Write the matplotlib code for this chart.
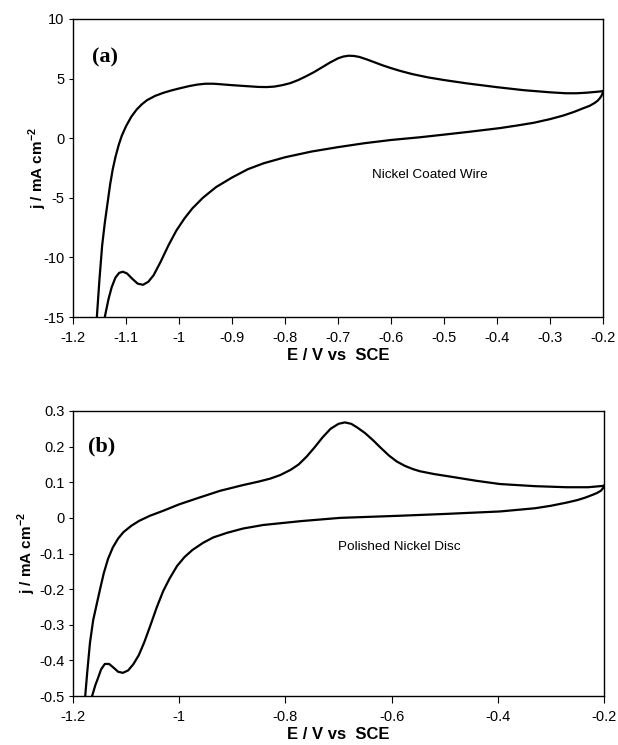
import matplotlib.pyplot as plt

plt.rcParams['font.family'] = 'Liberation Sans'
plt.rcParams['mathtext.fontset'] = 'custom'
plt.rcParams['mathtext.rm'] = 'Liberation Sans:bold'
plt.rcParams['mathtext.bf'] = 'Liberation Sans:bold'

# (a) nickel coated wire: anodic (forward) and cathodic (return) branches
a_fwd_E = [-1.155, -1.15, -1.145, -1.14, -1.135, -1.13, -1.125, -1.12, -1.114, -1.108,
           -1.1, -1.09, -1.08, -1.07, -1.06, -1.045, -1.03, -1.015, -1.0, -0.98,
           -0.965, -0.95, -0.935, -0.92, -0.9, -0.87, -0.85, -0.834, -0.82, -0.805,
           -0.79, -0.775, -0.76, -0.745, -0.73, -0.715, -0.7, -0.69, -0.68, -0.67,
           -0.66, -0.645, -0.63, -0.615, -0.6, -0.583, -0.56, -0.53, -0.5, -0.457,
           -0.4, -0.35, -0.3, -0.27, -0.25, -0.23, -0.21, -0.2]
a_fwd_j = [-15, -11.8, -9, -7.1, -5.5, -3.9, -2.6, -1.6, -0.6, 0.2,
           1.0, 1.8, 2.4, 2.85, 3.2, 3.55, 3.8, 4.0, 4.17, 4.38,
           4.5, 4.57, 4.57, 4.52, 4.45, 4.36, 4.3, 4.29, 4.33, 4.45,
           4.62, 4.88, 5.2, 5.55, 5.95, 6.35, 6.7, 6.85, 6.92, 6.9,
           6.82, 6.6, 6.35, 6.1, 5.88, 5.65, 5.38, 5.1, 4.88, 4.6,
           4.28, 4.03, 3.85, 3.77, 3.77, 3.82, 3.9, 3.95]
a_rev_E = [-0.2, -0.201, -0.203, -0.206, -0.21, -0.216, -0.225, -0.238, -0.255, -0.275,
           -0.3, -0.33, -0.36, -0.394, -0.45, -0.5, -0.545, -0.6, -0.65, -0.7,
           -0.75, -0.8, -0.84, -0.87, -0.9, -0.93, -0.955, -0.975, -0.99, -1.005,
           -1.02, -1.035, -1.048, -1.058, -1.068, -1.078, -1.088, -1.098, -1.106, -1.113,
           -1.12, -1.127, -1.133, -1.14]
a_rev_j = [3.95, 3.75, 3.55, 3.35, 3.15, 2.95, 2.72, 2.5, 2.2, 1.9,
           1.6, 1.3, 1.08, 0.85, 0.55, 0.3, 0.08, -0.15, -0.42, -0.75,
           -1.12, -1.6, -2.1, -2.6, -3.3, -4.1, -5.0, -5.9, -6.75, -7.75,
           -9.0, -10.4, -11.5, -12.05, -12.3, -12.2, -11.8, -11.35, -11.2, -11.3,
           -11.7, -12.5, -13.5, -15]

# (b) polished nickel disc
b_fwd_E = [-1.177, -1.173, -1.168, -1.162, -1.155, -1.149, -1.142, -1.134, -1.125, -1.115,
           -1.105, -1.09, -1.075, -1.055, -1.03, -1.0, -0.96, -0.923, -0.88, -0.85,
           -0.829, -0.81, -0.79, -0.775, -0.76, -0.745, -0.73, -0.715, -0.7, -0.688,
           -0.676, -0.665, -0.65, -0.635, -0.62, -0.605, -0.59, -0.575, -0.56, -0.547,
           -0.52, -0.49, -0.44, -0.396, -0.33, -0.27, -0.23, -0.2]
b_fwd_j = [-0.5, -0.43, -0.35, -0.287, -0.24, -0.2, -0.155, -0.115, -0.083, -0.058,
           -0.04, -0.022, -0.008, 0.006, 0.02, 0.038, 0.058, 0.076, 0.092, 0.102,
           0.11, 0.12, 0.135, 0.15, 0.172, 0.198, 0.226, 0.25, 0.264, 0.268,
           0.264, 0.254, 0.238, 0.218, 0.196, 0.175, 0.158, 0.146, 0.137, 0.131,
           0.123, 0.116, 0.104, 0.095, 0.089, 0.086, 0.086, 0.09]
b_rev_E = [-0.2, -0.202, -0.206, -0.213, -0.221, -0.235, -0.25, -0.27, -0.3, -0.33,
           -0.396, -0.5, -0.584, -0.697, -0.77, -0.842, -0.88, -0.91, -0.936, -0.955,
           -0.975, -0.99, -1.004, -1.018, -1.03, -1.042, -1.055, -1.066, -1.076, -1.086,
           -1.096, -1.106, -1.115, -1.124, -1.132, -1.14, -1.147, -1.153, -1.158, -1.164]
b_rev_j = [0.09, 0.083, 0.076, 0.07, 0.065, 0.057, 0.05, 0.043, 0.034, 0.027,
           0.018, 0.011, 0.006, 0.0, -0.009, -0.02, -0.03, -0.042, -0.055, -0.07,
           -0.09, -0.11, -0.135, -0.17, -0.205, -0.25, -0.305, -0.35, -0.385, -0.41,
           -0.428, -0.435, -0.432, -0.42, -0.41, -0.41, -0.425, -0.45, -0.47, -0.5]

fig = plt.figure(figsize=(6.18, 7.45), dpi=100)
W, H = 618, 745
ax1 = fig.add_axes([73 / W, 1 - 317 / H, 530 / W, 298 / H])
ax2 = fig.add_axes([73 / W, 1 - 696 / H, 531 / W, 285 / H])

ylab = r'j / mA cm$^{\mathbf{-2}}$'

def style(ax):
    for s in ax.spines.values():
        s.set_linewidth(1.0)
    ax.tick_params(axis='x', direction='out', length=5, width=0.8, pad=5,
                   labelsize=10.5, top=False)
    ax.tick_params(axis='y', direction='out', length=3, width=0.8, pad=3,
                   labelsize=10.5, right=False)
    ax.set_xlabel('E / V vs  SCE', fontsize=12, fontweight='bold', labelpad=2)
    ax.set_ylabel(ylab, fontsize=11, fontweight='bold')

ax1.plot(a_fwd_E, a_fwd_j, color='black', lw=1.6)
ax1.plot(a_rev_E, a_rev_j, color='black', lw=1.6)
ax1.set_xlim(-1.2, -0.2)
ax1.set_ylim(-15, 10)
ax1.set_xticks([-1.2, -1.1, -1.0, -0.9, -0.8, -0.7, -0.6, -0.5, -0.4, -0.3, -0.2])
ax1.set_xticklabels(['-1.2', '-1.1', '-1', '-0.9', '-0.8', '-0.7', '-0.6', '-0.5', '-0.4', '-0.3', '-0.2'])
ax1.set_yticks([-15, -10, -5, 0, 5, 10])
ax1.set_yticklabels(['-15', '-10', '-5', '0', '5', '10'])
style(ax1)
ax1.yaxis.set_label_coords(-0.046, 0.5)
ax1.text(-0.636, -3.1, 'Nickel Coated Wire', fontsize=9.7, va='center', ha='left')
ax1.text(0.036, 0.87, '(a)', transform=ax1.transAxes, fontsize=16, fontweight='bold',
         family='Liberation Serif', va='center', ha='left')

ax2.plot(b_fwd_E, b_fwd_j, color='black', lw=1.6)
ax2.plot(b_rev_E, b_rev_j, color='black', lw=1.6)
ax2.set_xlim(-1.2, -0.2)
ax2.set_ylim(-0.5, 0.3)
ax2.set_xticks([-1.2, -1.0, -0.8, -0.6, -0.4, -0.2])
ax2.set_xticklabels(['-1.2', '-1', '-0.8', '-0.6', '-0.4', '-0.2'])
ax2.set_yticks([-0.5, -0.4, -0.3, -0.2, -0.1, 0, 0.1, 0.2, 0.3])
ax2.set_yticklabels(['-0.5', '-0.4', '-0.3', '-0.2', '-0.1', '0', '0.1', '0.2', '0.3'])
style(ax2)
ax2.yaxis.set_label_coords(-0.066, 0.5)
ax2.text(-0.701, -0.081, 'Polished Nickel Disc', fontsize=9.7, va='center', ha='left')
ax2.text(0.028, 0.874, '(b)', transform=ax2.transAxes, fontsize=16, fontweight='bold',
         family='Liberation Serif', va='center', ha='left')

fig.savefig('out.png', dpi=100)
